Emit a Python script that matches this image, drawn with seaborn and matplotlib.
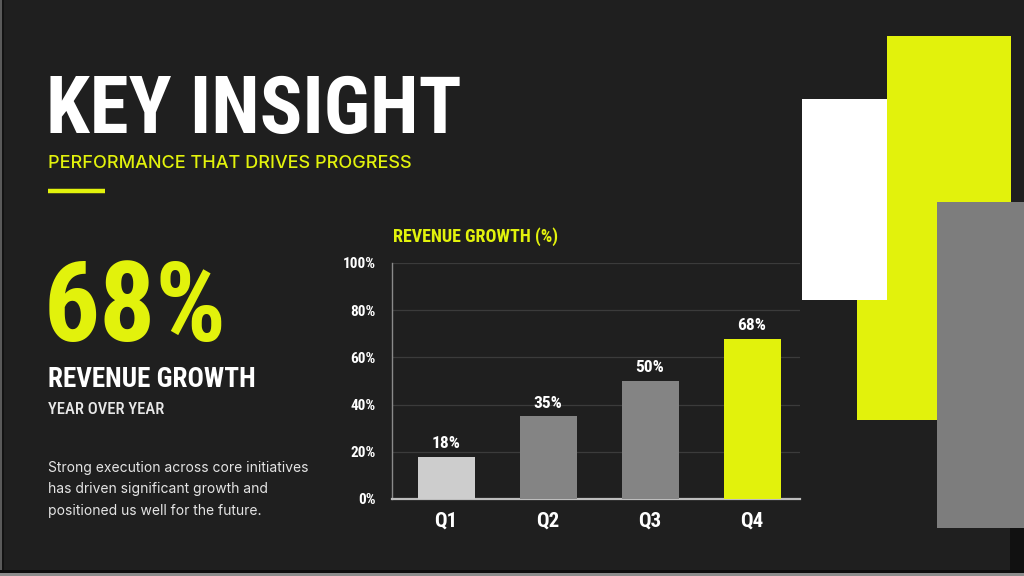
import matplotlib
matplotlib.use("Agg")
import matplotlib.pyplot as plt
import matplotlib.patches as mpatches
from matplotlib import font_manager
import seaborn as sns

# -----------------------------------------------------------------------------
# Data
# -----------------------------------------------------------------------------
QUARTERS      = ["Q1", "Q2", "Q3", "Q4"]
GROWTH        = [18, 35, 50, 68]
BAR_COLORS    = ["#cdcdcd", "#848484", "#848484", "#e2f20c"]
Y_TICKS       = [0, 20, 40, 60, 80, 100]
Y_TICK_LABELS = ["0%", "20%", "40%", "60%", "80%", "100%"]

HEADLINE   = "KEY INSIGHT"
SUBTITLE   = "PERFORMANCE THAT DRIVES PROGRESS"
BIG_STAT   = "68%"
STAT_LABEL = "REVENUE GROWTH"
STAT_SUB   = "YEAR OVER YEAR"
BODY       = ["Strong execution across core initiatives",
              "has driven significant growth and",
              "positioned us well for the future."]
CHART_TITLE = "REVENUE GROWTH (%)"

# -----------------------------------------------------------------------------
# Style
# -----------------------------------------------------------------------------
BG     = "#1f1f1f"
YELLOW = "#e2f20c"
WHITE  = "#ffffff"
GRAY   = "#7d7d7d"

sns.set_theme(style="dark", rc={
    "figure.facecolor": BG,
    "axes.facecolor": "none",
    "savefig.facecolor": BG,
})


def pick_condensed():
    """Find an installed condensed / narrow family for the poster-style text."""
    stretches = ("condensed", "semi-condensed", "extra-condensed", "ultra-condensed")
    cands = [f for f in font_manager.fontManager.ttflist if f.stretch in stretches]
    for pref in ["Roboto Condensed", "Liberation Sans Narrow", "DejaVu Sans", "Noto Sans", "Open Sans"]:
        if any(f.name == pref for f in cands):
            return pref
    return cands[0].name if cands else "DejaVu Sans"


COND = pick_condensed()
plt.rcParams["font.family"] = ["Inter", "DejaVu Sans"]

cond = dict(family=COND, stretch="condensed", weight="bold")

fig = plt.figure(figsize=(10.24, 5.76), dpi=100)

# Background canvas in pixel coordinates
bg = fig.add_axes([0, 0, 1, 1], zorder=0)
bg.set_xlim(0, 1024)
bg.set_ylim(576, 0)
bg.axis("off")

# Decorative blocks on the right
bg.add_patch(mpatches.Rectangle((887, 36), 124, 384, color=YELLOW, lw=0, zorder=1))
bg.add_patch(mpatches.Rectangle((857, 150), 80, 270, color=YELLOW, lw=0, zorder=1))
bg.add_patch(mpatches.Rectangle((802, 99), 85, 201, color=WHITE, lw=0, zorder=2))
bg.add_patch(mpatches.Rectangle((937, 202), 87, 326, color=GRAY, lw=0, zorder=3))
bg.add_patch(mpatches.Rectangle((1010, 528), 14, 43, color="#111111", lw=0, zorder=3))

# thin frame edges
bg.add_patch(mpatches.Rectangle((0, 0), 2, 576, color="#5a5a5a", lw=0, zorder=4))
bg.add_patch(mpatches.Rectangle((2, 0), 2, 571, color="#121212", lw=0, zorder=4))
bg.add_patch(mpatches.Rectangle((0, 570), 1024, 3, color="#0e0e0e", lw=0, zorder=4))
bg.add_patch(mpatches.Rectangle((0, 573), 1024, 3, color="#8c8c8c", lw=0, zorder=4))

# Left column text
bg.text(46, 133, HEADLINE, color=WHITE, fontsize=57, va="baseline", **cond)
bg.text(48, 168, SUBTITLE, color=YELLOW, fontsize=13, va="baseline",
        family=["Inter", "DejaVu Sans"], weight="medium")
bg.plot([48, 105], [191, 191], color=YELLOW, lw=3.2, solid_capstyle="butt")

bg.text(44, 341, BIG_STAT, color=YELLOW, fontsize=80, va="baseline", **cond)
bg.text(48, 387, STAT_LABEL, color=WHITE, fontsize=19.5, va="baseline", **cond)
bg.text(48, 414, STAT_SUB, color="#e8e8e8", fontsize=12, va="baseline",
        family=COND, stretch="condensed", weight="medium")

for i, line in enumerate(BODY):
    bg.text(48, 472 + i * 21.5, line, color="#e4e4e4", fontsize=10, va="baseline",
            family=["Inter", "DejaVu Sans"])

bg.text(393, 242, CHART_TITLE, color=YELLOW, fontsize=13, va="baseline", **cond)

# -----------------------------------------------------------------------------
# Bar chart
# -----------------------------------------------------------------------------
ax = fig.add_axes([392 / 1024, 1 - 499 / 576, 408 / 1024, 236 / 576], zorder=1)

sns.barplot(
    x=QUARTERS, y=GROWTH, hue=QUARTERS,
    palette=dict(zip(QUARTERS, BAR_COLORS)),
    width=0.56, saturation=1, legend=False, ax=ax, zorder=3,
    linewidth=0, edgecolor="none",
)

for container in ax.containers:
    ax.bar_label(container, fmt="{:.0f}%", padding=4, color=WHITE, fontsize=12.5, **cond)

ax.set_ylim(0, 100)
ax.set_xlim(-0.53, 3.47)
ax.set_yticks(Y_TICKS, labels=Y_TICK_LABELS)
ax.set_xlabel("")
ax.set_ylabel("")

ax.grid(axis="y", color="#3b3b3b", lw=0.9)
ax.grid(axis="x", visible=False)
ax.set_axisbelow(True)

for side in ["top", "right"]:
    ax.spines[side].set_visible(False)
ax.spines["left"].set_visible(True)
ax.spines["left"].set_color("#8a8a8a")
ax.spines["left"].set_linewidth(1.0)
ax.spines["bottom"].set_visible(True)
ax.spines["bottom"].set_color("#bdbdbd")
ax.spines["bottom"].set_linewidth(1.6)

ax.tick_params(axis="y", length=0, pad=12, colors=WHITE)
ax.tick_params(axis="x", length=0, pad=9, colors=WHITE)
for lbl in ax.get_yticklabels():
    lbl.set_fontproperties(font_manager.FontProperties(family=COND, stretch="condensed", weight="bold", size=11))
for lbl in ax.get_xticklabels():
    lbl.set_fontproperties(font_manager.FontProperties(family=COND, stretch="condensed", weight="bold", size=15))

fig.savefig("out.png", dpi=100, facecolor=BG)
